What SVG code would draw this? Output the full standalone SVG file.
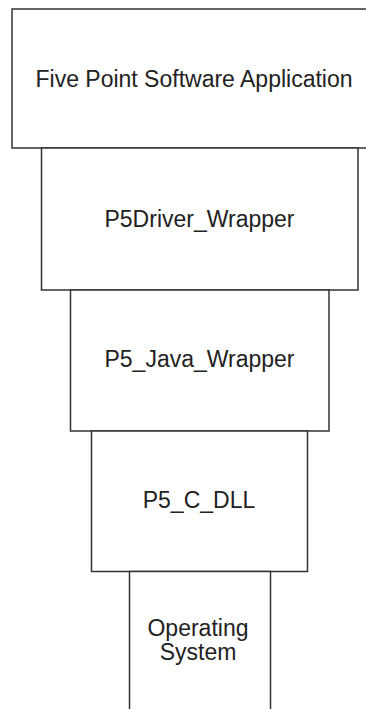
<svg xmlns="http://www.w3.org/2000/svg" width="366" height="709" viewBox="0 0 366 709">
<style>
.box{fill:#fff;stroke:#333;stroke-width:1.5}
.lbl{font-family:"Liberation Sans",Arial,sans-serif;font-size:23px;fill:#222;text-anchor:middle}
</style>
<rect width="366" height="709" fill="#fff"/>
<g id="n1"><rect class="box" x="12" y="9" width="366" height="139"/><text class="lbl" x="194" y="87">Five Point Software Application</text></g>
<g id="n2"><rect class="box" x="41.5" y="148" width="316.5" height="142"/><text class="lbl" x="199.5" y="227">P5Driver_Wrapper</text></g>
<g id="n3"><rect class="box" x="70.5" y="290" width="258.5" height="141"/><text class="lbl" x="199.5" y="367">P5_Java_Wrapper</text></g>
<g id="n4"><rect class="box" x="91.5" y="431" width="216" height="140.5"/><text class="lbl" x="199" y="508">P5_C_DLL</text></g>
<g id="n5"><rect class="box" x="129.5" y="571.5" width="141" height="150"/><text class="lbl" x="198" y="636">Operating</text><text class="lbl" x="198" y="660">System</text></g>
<g id="connectors"></g>
</svg>
